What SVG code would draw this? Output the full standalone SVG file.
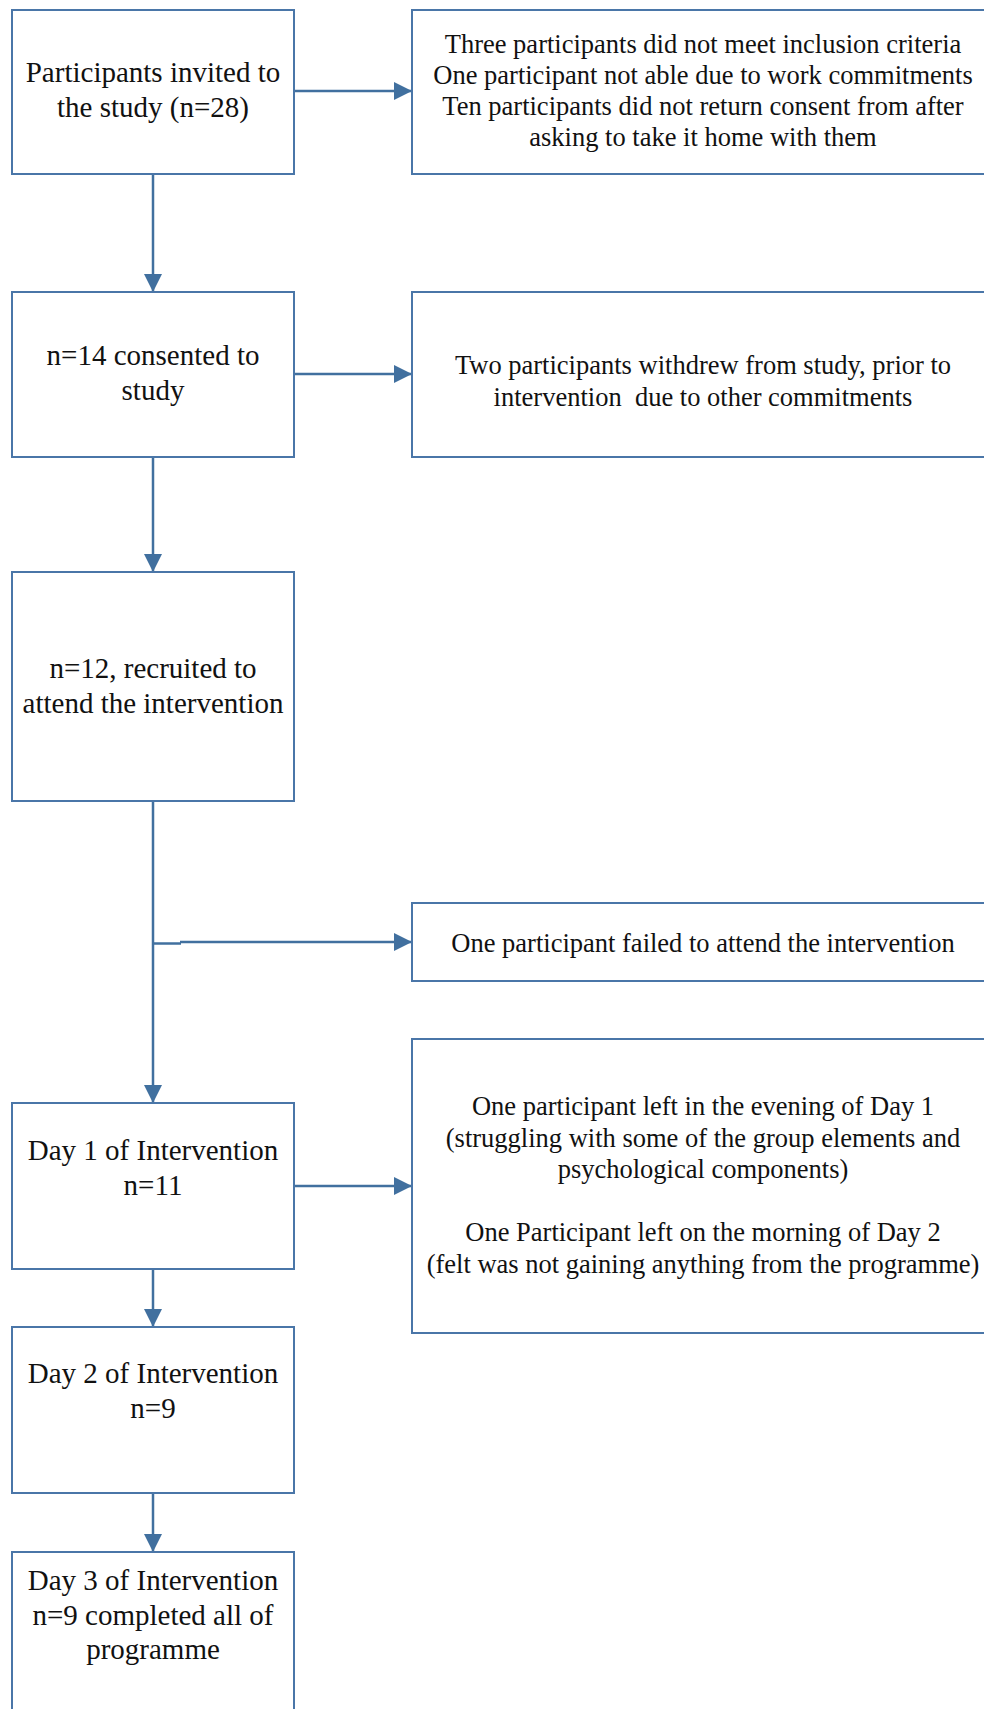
<svg xmlns="http://www.w3.org/2000/svg" width="984" height="1709" viewBox="0 0 984 1709">
<style>
.box{fill:#ffffff;stroke:#4A76A8;stroke-width:2}
.lt{font-family:"Liberation Serif","Times New Roman",serif;font-size:29px;fill:#111;text-anchor:middle}
.rt{font-family:"Liberation Serif","Times New Roman",serif;font-size:26.5px;fill:#111;text-anchor:middle}
.con{fill:none;stroke:#41709F;stroke-width:2.5}
</style>
<defs>
<marker id="arr" markerUnits="userSpaceOnUse" markerWidth="18" markerHeight="18" viewBox="0 0 18 18" refX="18" refY="9" orient="auto">
<path d="M0,0 L18,9 L0,18 Z" fill="#41709F"/>
</marker>
</defs>
<rect width="984" height="1709" fill="#ffffff"/>
<g id="connectors">
<line class="con" x1="294" y1="91" x2="412" y2="91" marker-end="url(#arr)"/>
<line class="con" x1="153" y1="174" x2="153" y2="292" marker-end="url(#arr)"/>
<line class="con" x1="294" y1="374" x2="412" y2="374" marker-end="url(#arr)"/>
<line class="con" x1="153" y1="457" x2="153" y2="572" marker-end="url(#arr)"/>
<line class="con" x1="153" y1="801" x2="153" y2="1103" marker-end="url(#arr)"/>
<line class="con" x1="153" y1="943.5" x2="181" y2="943.5"/>
<line class="con" x1="180" y1="942" x2="412" y2="942" marker-end="url(#arr)"/>
<line class="con" x1="294" y1="1186" x2="412" y2="1186" marker-end="url(#arr)"/>
<line class="con" x1="153" y1="1269" x2="153" y2="1327" marker-end="url(#arr)"/>
<line class="con" x1="153" y1="1493" x2="153" y2="1552" marker-end="url(#arr)"/>
</g>
<g id="node-invited">
<rect class="box" x="12" y="10" width="282" height="164"/>
<text class="lt" x="153" y="82">Participants invited to</text>
<text class="lt" x="153" y="117">the study (n=28)</text>
</g>
<g id="node-excluded1">
<rect class="box" x="412" y="10" width="590" height="164"/>
<text class="rt" x="703" y="53">Three participants did not meet inclusion criteria</text>
<text class="rt" x="703" y="84">One participant not able due to work commitments</text>
<text class="rt" x="703" y="115">Ten participants did not return consent from after</text>
<text class="rt" x="703" y="146">asking to take it home with them</text>
</g>
<g id="node-consented">
<rect class="box" x="12" y="292" width="282" height="165"/>
<text class="lt" x="153" y="365">n=14 consented to</text>
<text class="lt" x="153" y="400">study</text>
</g>
<g id="node-withdrew">
<rect class="box" x="412" y="292" width="590" height="165"/>
<text class="rt" x="703" y="374">Two participants withdrew from study, prior to</text>
<text class="rt" x="703" y="406" xml:space="preserve">intervention  due to other commitments</text>
</g>
<g id="node-recruited">
<rect class="box" x="12" y="572" width="282" height="229"/>
<text class="lt" x="153" y="678">n=12, recruited to</text>
<text class="lt" x="153" y="713">attend the intervention</text>
</g>
<g id="node-failed">
<rect class="box" x="412" y="903" width="590" height="78"/>
<text class="rt" x="703" y="952">One participant failed to attend the intervention</text>
</g>
<g id="node-day1">
<rect class="box" x="12" y="1103" width="282" height="166"/>
<text class="lt" x="153" y="1160">Day 1 of Intervention</text>
<text class="lt" x="153" y="1195">n=11</text>
</g>
<g id="node-left">
<rect class="box" x="412" y="1039" width="590" height="294"/>
<text class="rt" x="703" y="1115">One participant left in the evening of Day 1</text>
<text class="rt" x="703" y="1146.5">(struggling with some of the group elements and</text>
<text class="rt" x="703" y="1178">psychological components)</text>
<text class="rt" x="703" y="1241">One Participant left on the morning of Day 2</text>
<text class="rt" x="703" y="1272.5">(felt was not gaining anything from the programme)</text>
</g>
<g id="node-day2">
<rect class="box" x="12" y="1327" width="282" height="166"/>
<text class="lt" x="153" y="1383">Day 2 of Intervention</text>
<text class="lt" x="153" y="1418">n=9</text>
</g>
<g id="node-day3">
<rect class="box" x="12" y="1552" width="282" height="170"/>
<text class="lt" x="153" y="1590">Day 3 of Intervention</text>
<text class="lt" x="153" y="1625">n=9 completed all of</text>
<text class="lt" x="153" y="1659">programme</text>
</g>
</svg>
